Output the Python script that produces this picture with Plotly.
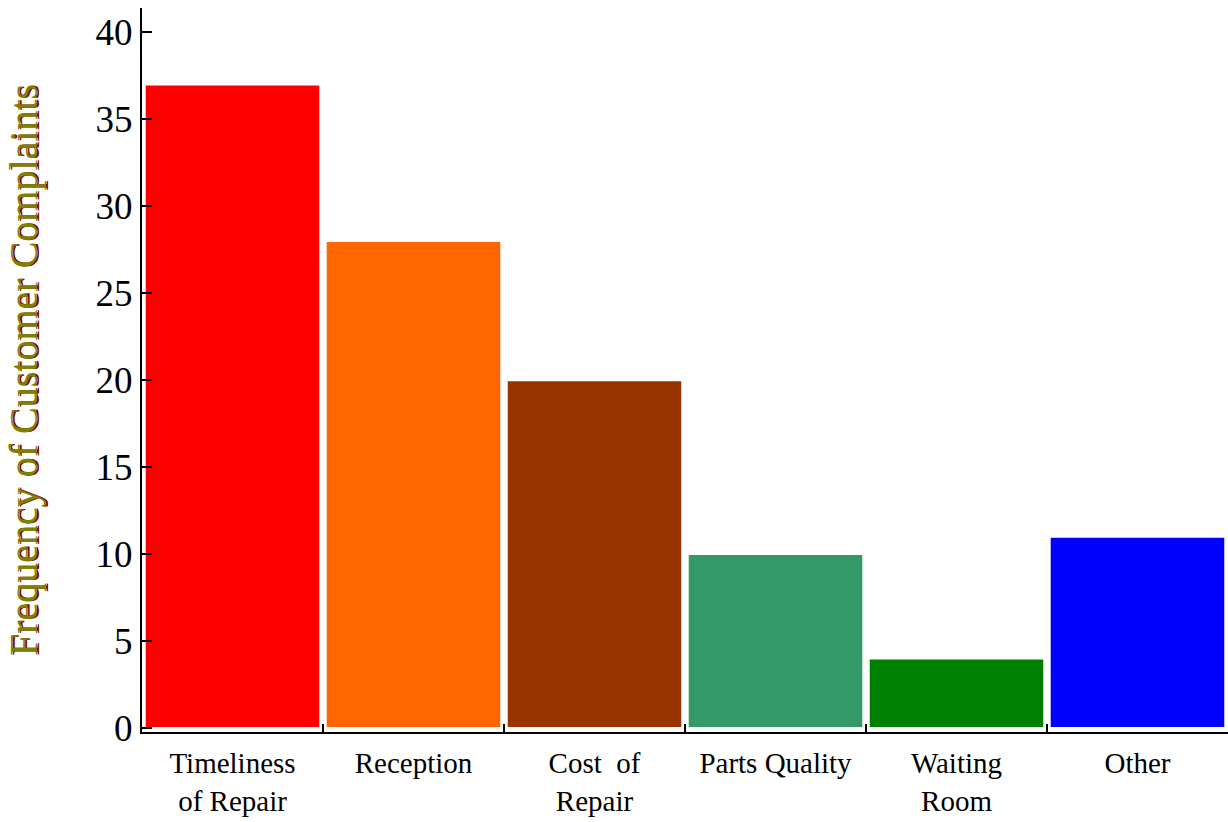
import plotly.graph_objects as go

categories = ["Timeliness<br>of Repair", "Reception", "Cost  of<br>Repair",
              "Parts Quality", "Waiting<br>Room", "Other"]
complaints = [37, 28, 20, 10, 4, 11]
bar_colors = ["#FF0000", "#FF6600", "#993300", "#339966", "#008000", "#0000FF"]
y_ticks = [0, 5, 10, 15, 20, 25, 30, 35, 40]

FONT = "Liberation Serif"

fig = go.Figure(go.Bar(
    x=categories,
    y=complaints,
    marker=dict(color=bar_colors, line=dict(color="white", width=2)),
    hoverinfo="skip",
))

fig.update_layout(
    width=1228, height=822,
    margin=dict(l=142, r=0, t=8, b=90),
    paper_bgcolor="white", plot_bgcolor="white",
    bargap=0.03,
    showlegend=False,
    font=dict(family=FONT, color="black"),
)

fig.update_xaxes(
    automargin=False,
    showline=True, linecolor="black", linewidth=2,
    ticks="inside", tickson="boundaries", ticklen=8, tickcolor="black", tickwidth=2,
    tickfont=dict(family=FONT, size=29, color="black"),
    ticklabelstandoff=4,
    showgrid=False, zeroline=False,
)

fig.update_yaxes(
    automargin=False,
    range=[-0.23, 41.4],
    tickmode="array", tickvals=y_ticks, ticktext=[str(v) for v in y_ticks],
    showline=True, linecolor="black", linewidth=2,
    ticks="inside", ticklen=10, tickcolor="black", tickwidth=2,
    tickfont=dict(family=FONT, size=37, color="black"),
    showgrid=False, zeroline=False,
    title=dict(text="Frequency of Customer Complaints",
               font=dict(family=FONT, size=40, color="#808000",
                         shadow="0px 2px 0px #800000"),
               standoff=46),
)

fig.write_html("out.html")
